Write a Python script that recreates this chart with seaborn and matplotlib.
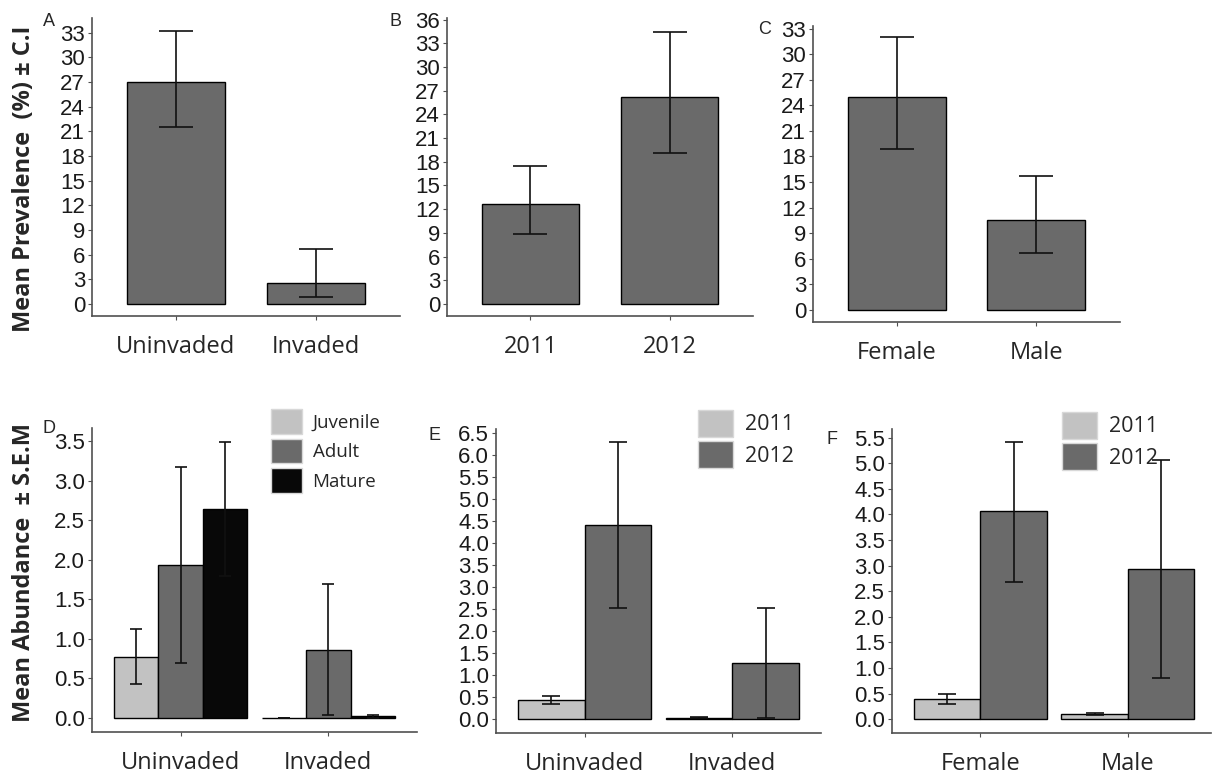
import numpy as np
import pandas as pd
import matplotlib.pyplot as plt
import seaborn as sns

# ---- data ----
habitat = ['Uninvaded', 'Invaded']
years = ['2011', '2012']
sexes = ['Female', 'Male']
stages = ['Juvenile', 'Adult', 'Mature']

# A-C: mean prevalence (%) with CI limits
prev_habitat = [27.0, 2.6]
prev_habitat_lo = [21.5, 0.8]
prev_habitat_hi = [33.2, 6.7]

prev_year = [12.7, 26.2]
prev_year_lo = [8.8, 19.1]
prev_year_hi = [17.5, 34.4]

prev_sex = [25.0, 10.6]
prev_sex_lo = [18.9, 6.7]
prev_sex_hi = [32.0, 15.7]

# D: mean abundance by stage (per habitat), +/- SEM limits
juvenile_mean = [0.77, 0.0]
juvenile_lo = [0.43, 0.0]
juvenile_hi = [1.12, 0.0]
adult_mean = [1.94, 0.86]
adult_lo = [0.69, 0.04]
adult_hi = [3.17, 1.69]
mature_mean = [2.64, 0.02]
mature_lo = [1.79, 0.0]
mature_hi = [3.49, 0.04]

# E: mean abundance by year (per habitat)
hab_2011 = [0.42, 0.02]
hab_2011_lo = [0.33, 0.01]
hab_2011_hi = [0.52, 0.04]
hab_2012 = [4.41, 1.27]
hab_2012_lo = [2.52, 0.02]
hab_2012_hi = [6.30, 2.52]

# F: mean abundance by year (per sex)
sex_2011 = [0.40, 0.11]
sex_2011_lo = [0.30, 0.08]
sex_2011_hi = [0.50, 0.13]
sex_2012 = [4.07, 2.94]
sex_2012_lo = [2.69, 0.81]
sex_2012_hi = [5.42, 5.06]

DARK = '#6a6a6a'
LIGHT = '#c2c2c2'
BLACK = '#080808'
SPINE = '#505050'

sns.set_style('ticks')
plt.rcParams['font.family'] = ['Liberation Sans', 'DejaVu Sans']

W, H = 1212, 774
fig = plt.figure(figsize=(W / 100, H / 100), dpi=100)


def add_axes(left, top, right, bottom):
    return fig.add_axes([left / W, 1 - bottom / H, (right - left) / W, (bottom - top) / H])


def style_axes(ax, yticks, fmt, xlim, ylim):
    ax.set_xlim(*xlim)
    ax.set_ylim(*ylim)
    ax.set_yticks(yticks)
    ax.set_yticklabels([fmt.format(t) for t in yticks])
    ax.set_xlabel('')
    ax.set_ylabel('')
    sns.despine(ax=ax)
    for s in ['left', 'bottom']:
        ax.spines[s].set_color(SPINE)
        ax.spines[s].set_linewidth(1.2)
    ax.tick_params(axis='y', labelsize=16, length=3, color=SPINE, pad=2, labelcolor='#1a1a1a')
    ax.tick_params(axis='x', length=3, color=SPINE, pad=11)
    for lab in ax.get_xticklabels():
        lab.set_fontfamily('Open Sans')
        lab.set_fontsize(17)


def simple_panel(ax, cats, vals, lo, hi, cap):
    df = pd.DataFrame({'cat': cats, 'val': vals})
    sns.barplot(data=df, x='cat', y='val', color=DARK, saturation=1, width=0.7,
                edgecolor='black', linewidth=1, errorbar=None, ax=ax)
    x = np.arange(len(cats))
    ax.errorbar(x, vals, yerr=[np.subtract(vals, lo), np.subtract(hi, vals)],
                fmt='none', ecolor='#111111', elinewidth=1.2, capsize=cap, capthick=1.2)


def grouped_panel(ax, cats, levels, means, los, his, colors, cap, width=0.9):
    rows = []
    for lev, m in zip(levels, means):
        for c, v in zip(cats, m):
            rows.append({'cat': c, 'level': lev, 'val': v})
    df = pd.DataFrame(rows)
    sns.barplot(data=df, x='cat', y='val', hue='level', order=cats, hue_order=levels,
                palette=dict(zip(levels, colors)), saturation=1, width=width,
                edgecolor='black', linewidth=1, errorbar=None, legend=False, ax=ax)
    n = len(levels)
    bw = width / n
    for j, (m, lo, hi) in enumerate(zip(means, los, his)):
        x = np.arange(len(cats)) + (j - (n - 1) / 2) * bw
        ax.errorbar(x, m, yerr=[np.subtract(m, lo), np.subtract(hi, m)],
                    fmt='none', ecolor='#111111', elinewidth=1.2, capsize=cap, capthick=1.2)


def square_legend(levels, colors, anchor, fontsize, hh, hl, spacing):
    handles = [plt.Rectangle((0, 0), 1, 1, facecolor=c, edgecolor='#d8d8d8', linewidth=1)
               for c in colors]
    leg = fig.legend(handles, levels, loc='upper left',
                     bbox_to_anchor=(anchor[0] / W, 1 - anchor[1] / H),
                     frameon=False, borderpad=0, handleheight=hh, handlelength=hl,
                     labelspacing=spacing, handletextpad=0.55,
                     prop={'family': 'Open Sans', 'size': fontsize})
    return leg


# ---- top row ----
axA = add_axes(92, 18, 400, 316)
simple_panel(axA, habitat, prev_habitat, prev_habitat_lo, prev_habitat_hi, cap=12.5)
style_axes(axA, np.arange(0, 34, 3), '{:.0f}', (-0.6, 1.6), (-1.46, 34.8))

axB = add_axes(447, 18, 753, 316)
simple_panel(axB, years, prev_year, prev_year_lo, prev_year_hi, cap=12.5)
style_axes(axB, np.arange(0, 37, 3), '{:.0f}', (-0.6, 1.6), (-1.52, 36.2))

axC = add_axes(813, 26, 1120, 322)
simple_panel(axC, sexes, prev_sex, prev_sex_lo, prev_sex_hi, cap=12.5)
style_axes(axC, np.arange(0, 34, 3), '{:.0f}', (-0.6, 1.6), (-1.41, 33.3))

# ---- bottom row ----
axD = add_axes(92, 428, 417, 732)
grouped_panel(axD, habitat, stages,
              [juvenile_mean, adult_mean, mature_mean],
              [juvenile_lo, adult_lo, mature_lo],
              [juvenile_hi, adult_hi, mature_hi],
              [LIGHT, DARK, BLACK], cap=4.5)
style_axes(axD, np.arange(0, 3.6, 0.5), '{:.1f}', (-0.6, 1.6), (-0.18, 3.67))

axE = add_axes(496, 429, 821, 733)
grouped_panel(axE, habitat, years, [hab_2011, hab_2012],
              [hab_2011_lo, hab_2012_lo], [hab_2011_hi, hab_2012_hi],
              [LIGHT, DARK], cap=6.5)
style_axes(axE, np.arange(0, 6.6, 0.5), '{:.1f}', (-0.6, 1.6), (-0.32, 6.59))

axF = add_axes(892, 429, 1211, 733)
grouped_panel(axF, sexes, years, [sex_2011, sex_2012],
              [sex_2011_lo, sex_2012_lo], [sex_2011_hi, sex_2012_hi],
              [LIGHT, DARK], cap=6.5)
style_axes(axF, np.arange(0, 5.6, 0.5), '{:.1f}', (-0.6, 1.565), (-0.27, 5.67))

# y labels
axA.set_ylabel('Mean Prevalence  (%) ± C.I', fontsize=17, fontweight='bold', family='Open Sans')
axA.yaxis.set_label_coords(-0.183, 0.46)
axD.set_ylabel('Mean Abundance  ± S.E.M', fontsize=17, fontweight='bold', family='Open Sans')
axD.yaxis.set_label_coords(-0.173, 0.525)

# legends
square_legend(stages, [LIGHT, DARK, BLACK], (262, 400), 13.5, 1.65, 1.65, 0.25)
square_legend(years, [LIGHT, DARK], (687, 399), 15.5, 1.55, 1.65, 0.2)
square_legend(years, [LIGHT, DARK], (1051, 401), 15.5, 1.55, 1.65, 0.2)

# panel letters
for letter, x, y in [('A', 43, 13), ('B', 389, 13), ('C', 758, 21),
                     ('D', 43, 420), ('E', 428, 427), ('F', 827, 431)]:
    fig.text(x / W, 1 - y / H, letter, fontsize=13, va='top', ha='left')

fig.savefig('out.png', dpi=100)
